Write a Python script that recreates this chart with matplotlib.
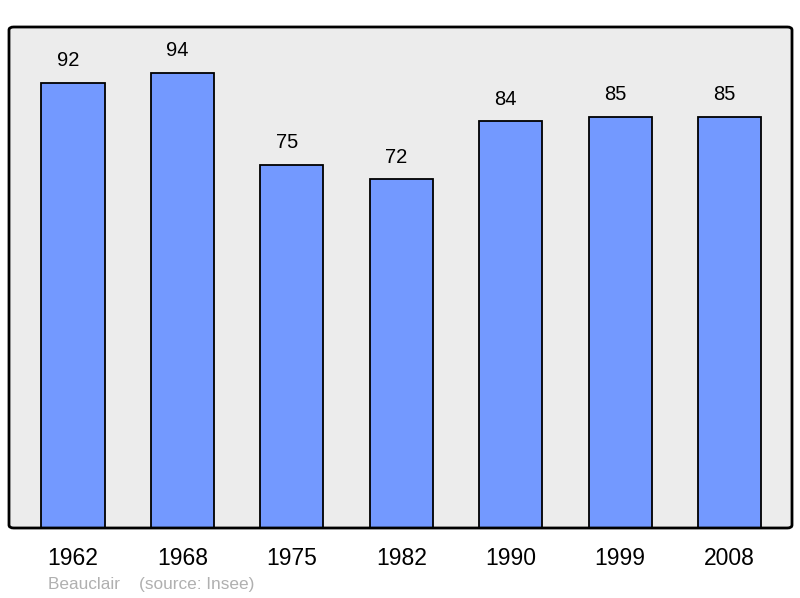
import numpy as np
import matplotlib.pyplot as plt
from matplotlib.patches import FancyBboxPatch

plt.rcParams['font.family'] = ['Liberation Sans', 'DejaVu Sans']

years = ['1962', '1968', '1975', '1982', '1990', '1999', '2008']
population = [92, 94, 75, 72, 84, 85, 85]

fig = plt.figure(figsize=(8, 5.98), dpi=100)
ax = fig.add_axes([9/800, 70/598, 783/800, 501/598])
ax.patch.set_visible(False)
for s in ax.spines.values():
    s.set_visible(False)

# rounded grey frame
bg = FancyBboxPatch((0, 0), 1, 1, boxstyle='round,pad=0,rounding_size=0.006',
                    transform=ax.transAxes, facecolor='#ececec', edgecolor='none',
                    zorder=-1, clip_on=False)
ax.add_patch(bg)
frame = FancyBboxPatch((0, 0), 1, 1, boxstyle='round,pad=0,rounding_size=0.006',
                       transform=ax.transAxes, facecolor='none', edgecolor='black',
                       linewidth=2, zorder=5, clip_on=False)
ax.add_patch(frame)

x = np.arange(len(years))
ax.bar(x, population, width=0.576, color='#7399ff', edgecolor='black', linewidth=1.3)

for xi, v in zip(x, population):
    ax.annotate(str(v), (xi, v), xytext=(-3.5, 9), textcoords='offset points',
                ha='center', va='bottom', fontsize=14.5)

ax.set_xlim(-0.585, 6.571)
ax.set_ylim(0, 103.5)
ax.set_xticks(x)
ax.set_xticklabels(years, fontsize=16.5)
ax.tick_params(axis='x', length=0, pad=14)
ax.set_yticks([])

fig.text(48/800, 1 - 584/598, 'Beauclair    (source: Insee)', color='#b0b0b0',
         fontsize=12.4, va='center', ha='left')

fig.savefig('out.png', dpi=100)
